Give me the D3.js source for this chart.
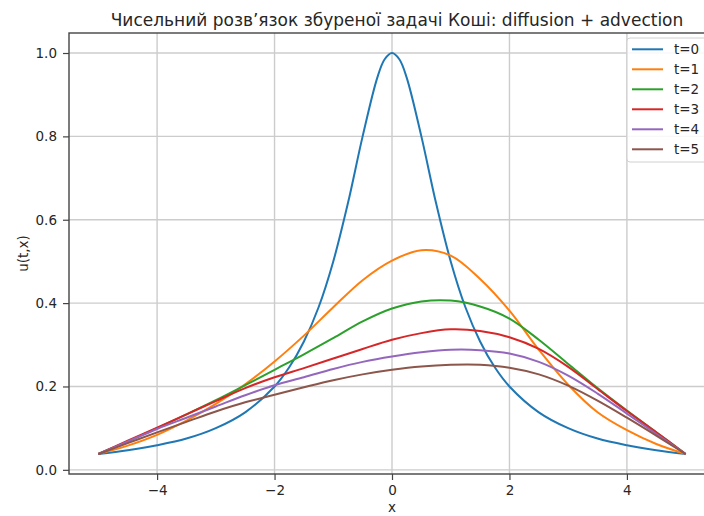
<!DOCTYPE html>
<html>
<head>
<meta charset="utf-8">
<script src="https://cdn.jsdelivr.net/npm/d3@7"></script>
<style>
  body { margin: 0; background: #fff; }
  svg text { font-family: "DejaVu Sans", sans-serif; fill: #262626; }
</style>
</head>
<body>
<svg id="chart" width="704" height="516"></svg>
<script>
// values
var xCoarse = [-5, -4.5, -4, -3.5, -3, -2.5, -2, -1.5, -1, -0.5, 0, 0.5, 1, 1.5, 2, 2.5, 3, 3.5, 4, 4.5, 5];
var xFine = [-5, -4.5, -4, -3.5, -3, -2.5, -2, -1.75, -1.5, -1.25, -1, -0.75, -0.5, -0.25, -0.125, 0,
	0.125, 0.25, 0.5, 0.75, 1, 1.25, 1.5, 1.75, 2, 2.5, 3, 3.5, 4, 4.5, 5];

var u0 = [0.038, 0.047, 0.059, 0.075, 0.1, 0.138, 0.2, 0.246, 0.308, 0.39, 0.5, 0.64, 0.8, 0.941, 0.985, 1.0,
	0.985, 0.941, 0.8, 0.64, 0.5, 0.39, 0.308, 0.246, 0.2, 0.138, 0.1, 0.075, 0.059, 0.047, 0.038];
var u1 = [0.038, 0.058, 0.084, 0.118, 0.158, 0.205, 0.26, 0.322, 0.39, 0.455, 0.502, 0.527, 0.514, 0.458, 0.382, 0.288, 0.204, 0.138, 0.095, 0.062, 0.038];
var u2 = [0.038, 0.068, 0.1, 0.133, 0.167, 0.203, 0.24, 0.277, 0.316, 0.356, 0.387, 0.404, 0.406, 0.392, 0.363, 0.312, 0.254, 0.196, 0.142, 0.09, 0.038];
var u3 = [0.038, 0.07, 0.101, 0.133, 0.165, 0.196, 0.222, 0.244, 0.267, 0.29, 0.312, 0.328, 0.337, 0.333, 0.318, 0.29, 0.247, 0.194, 0.141, 0.09, 0.038];
var u4 = [0.038, 0.068, 0.098, 0.125, 0.152, 0.179, 0.203, 0.222, 0.242, 0.259, 0.272, 0.282, 0.288, 0.287, 0.279, 0.259, 0.226, 0.183, 0.135, 0.086, 0.038];
var u5 = [0.038, 0.064, 0.09, 0.115, 0.14, 0.162, 0.18, 0.198, 0.215, 0.229, 0.24, 0.248, 0.252, 0.252, 0.245, 0.229, 0.202, 0.166, 0.125, 0.082, 0.038];

var labels = ["t=0", "t=1", "t=2", "t=3", "t=4", "t=5"];
var colors = ["#1f77b4", "#ff7f0e", "#2ca02c", "#d62728", "#9467bd", "#8c564b"];
var xTicks = [-4, -2, 0, 2, 4];
var yTicks = [0.0, 0.2, 0.4, 0.6, 0.8, 1.0];

var series = [
	{ xs: xFine, ys: u0 },
	{ xs: xCoarse, ys: u1 },
	{ xs: xCoarse, ys: u2 },
	{ xs: xCoarse, ys: u3 },
	{ xs: xCoarse, ys: u4 },
	{ xs: xCoarse, ys: u5 }
];

var svg = d3.select("#chart");
var plotL = 69, plotR = 715, plotT = 33, plotB = 474;

var x = d3.scaleLinear().domain([-5.5, 5.5]).range([plotL, plotR]);
var y = d3.scaleLinear().domain([-0.01, 1.048]).range([plotB, plotT]);

// grid
svg.append("g").selectAll("line.gx")
	.data(xTicks).enter().append("line")
	.attr("x1", function(d) { return x(d); }).attr("x2", function(d) { return x(d); })
	.attr("y1", plotT).attr("y2", plotB)
	.style("stroke", "#cccccc").style("stroke-width", 1.4);
svg.append("g").selectAll("line.gy")
	.data(yTicks).enter().append("line")
	.attr("y1", function(d) { return y(d); }).attr("y2", function(d) { return y(d); })
	.attr("x1", plotL).attr("x2", plotR)
	.style("stroke", "#cccccc").style("stroke-width", 1.4);

// lines
var line = d3.line().curve(d3.curveCatmullRom.alpha(0.5));
svg.append("g").selectAll("path")
	.data(series).enter().append("path")
	.attr("d", function(s) {
		return line(s.xs.map(function(v, i) { return [x(v), y(s.ys[i])]; }));
	})
	.style("fill", "none")
	.style("stroke", function(s, i) { return colors[i]; })
	.style("stroke-width", 2);

// axes
var fmtX = function(d) { return d < 0 ? "\u2212" + Math.abs(d) : String(d); };
var xAxis = svg.append("g").attr("transform", "translate(0," + plotB + ")")
	.call(d3.axisBottom(x).tickValues(xTicks).tickFormat(fmtX).tickSize(6).tickPadding(5));
var yAxis = svg.append("g").attr("transform", "translate(" + plotL + ",0)")
	.call(d3.axisLeft(y).tickValues(yTicks).tickFormat(d3.format(".1f")).tickSize(6).tickPadding(6));
[xAxis, yAxis].forEach(function(a) {
	a.select(".domain").remove();
	a.selectAll(".tick line").style("stroke", "#444").style("stroke-width", 1.2);
	a.selectAll(".tick text").style("font-size", "13.5px").style("fill", "#262626");
});

// frame
svg.append("rect")
	.attr("x", plotL).attr("y", plotT)
	.attr("width", plotR - plotL).attr("height", plotB - plotT)
	.style("fill", "none").style("stroke", "#444").style("stroke-width", 1.4);

// titles
svg.append("text")
	.attr("x", 397).attr("y", 26)
	.attr("text-anchor", "middle")
	.style("font-size", "17px")
	.text("Чисельний розв’язок збуреної задачі Коші: diffusion + advection");
svg.append("text")
	.attr("x", x(0)).attr("y", 512)
	.attr("text-anchor", "middle")
	.style("font-size", "13.5px")
	.text("x");
svg.append("text")
	.attr("transform", "translate(28," + ((plotT + plotB) / 2) + ") rotate(-90)")
	.attr("text-anchor", "middle")
	.style("font-size", "13.5px")
	.text("u(t,x)");

// legend
var leg = svg.append("g").attr("transform", "translate(627,38)");
leg.append("rect")
	.attr("width", 100).attr("height", 124).attr("rx", 3)
	.style("fill", "rgba(255,255,255,0.85)").style("stroke", "#d0d0d0").style("stroke-width", 1);
var items = leg.selectAll("g.item")
	.data(labels).enter().append("g")
	.attr("transform", function(d, i) { return "translate(0," + (11.3 + i * 20) + ")"; });
items.append("line")
	.attr("x1", 5).attr("x2", 36)
	.style("stroke", function(d, i) { return colors[i]; })
	.style("stroke-width", 2);
items.append("text")
	.attr("x", 47).attr("y", 5)
	.style("font-size", "13.5px")
	.text(function(d) { return d; });
</script>
</body>
</html>
